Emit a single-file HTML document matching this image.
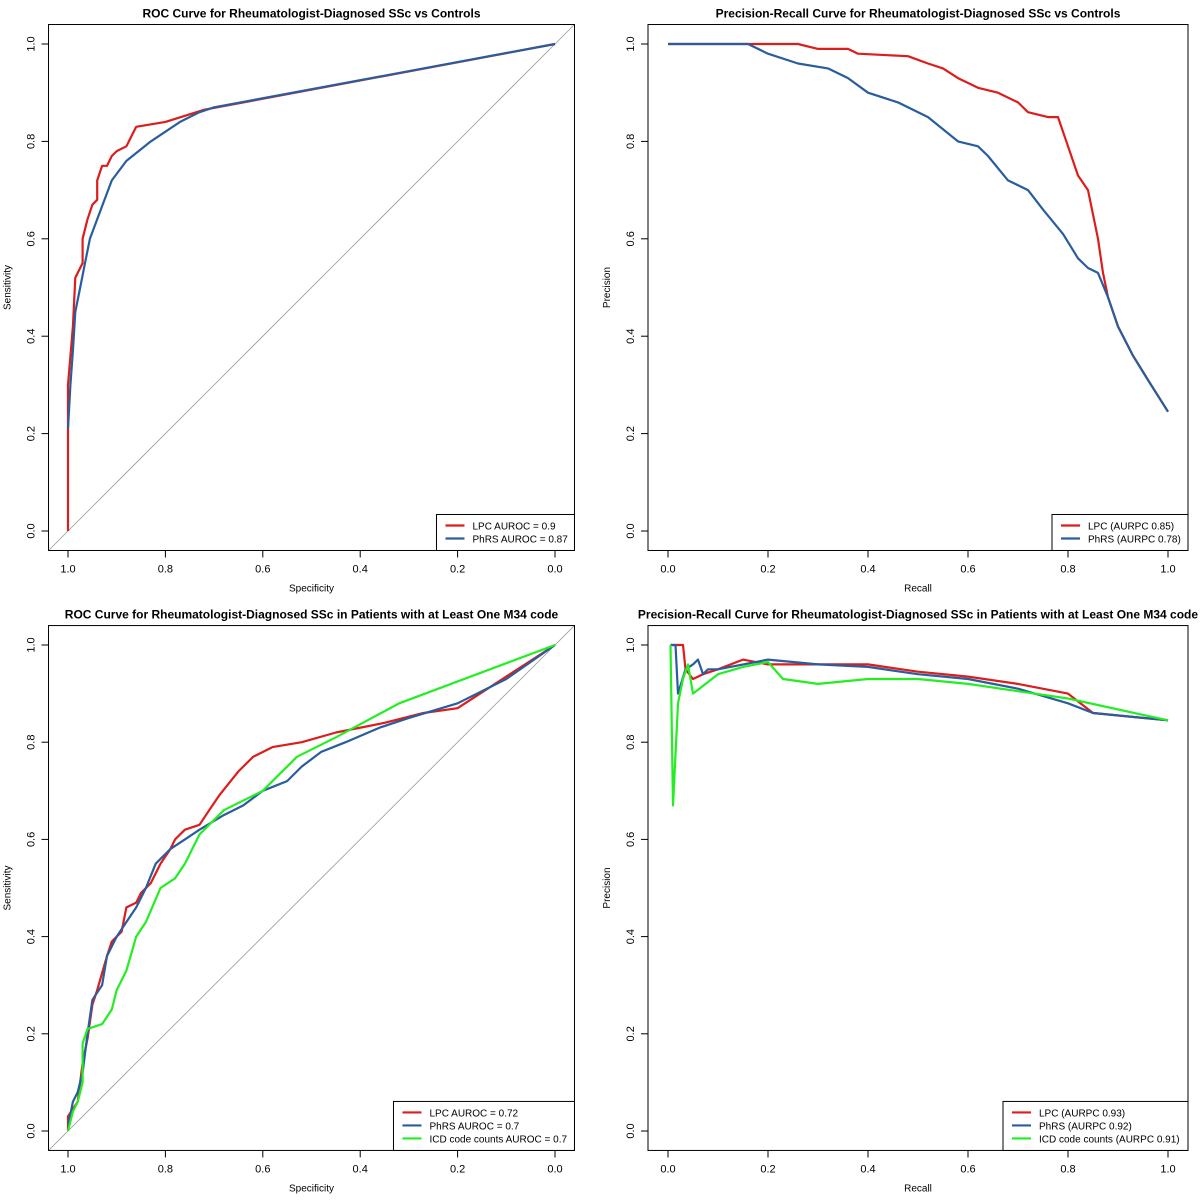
<!DOCTYPE html>
<html><head><meta charset="utf-8"><style>
body{margin:0;background:#fff}
svg{display:block;font-family:"Liberation Sans",Arial,sans-serif}
</style></head><body>
<svg id="c" width="1200" height="1200" viewBox="0 0 1200 1200"></svg>
<script>
// ---- data ----
const rocTicks = [1.0,0.8,0.6,0.4,0.2,0.0];
const prTicks = [0.0,0.2,0.4,0.6,0.8,1.0];
const yTicks = [0.0,0.2,0.4,0.6,0.8,1.0];
const roc1Lpc = [[1,0],[1,0.3],[0.99,0.42],[0.985,0.52],[0.97,0.55],[0.97,0.6],[0.96,0.64],[0.95,0.67],[0.94,0.68],[0.94,0.72],[0.93,0.75],[0.92,0.75],[0.91,0.77],[0.9,0.78],[0.88,0.79],[0.87,0.81],[0.86,0.83],[0.8,0.84],[0.72,0.865],[0,1]];
const roc1Phrs = [[1,0.21],[0.995,0.3],[0.99,0.37],[0.985,0.45],[0.975,0.5],[0.965,0.55],[0.955,0.6],[0.94,0.64],[0.925,0.68],[0.91,0.72],[0.88,0.76],[0.855,0.78],[0.83,0.8],[0.8,0.82],[0.77,0.84],[0.73,0.86],[0.7,0.87],[0,1]];
const pr1Lpc = [[0,1],[0.26,1],[0.3,0.99],[0.36,0.99],[0.38,0.98],[0.48,0.975],[0.52,0.96],[0.55,0.95],[0.58,0.93],[0.62,0.91],[0.66,0.9],[0.7,0.88],[0.72,0.86],[0.76,0.85],[0.78,0.85],[0.79,0.82],[0.8,0.79],[0.82,0.73],[0.84,0.7],[0.86,0.6],[0.87,0.53],[0.88,0.48],[0.9,0.42],[0.93,0.36],[0.96,0.31],[1,0.245]];
const pr1Phrs = [[0,1],[0.16,1],[0.2,0.98],[0.26,0.96],[0.32,0.95],[0.36,0.93],[0.4,0.9],[0.46,0.88],[0.52,0.85],[0.58,0.8],[0.62,0.79],[0.64,0.77],[0.68,0.72],[0.72,0.7],[0.75,0.66],[0.79,0.61],[0.82,0.56],[0.84,0.54],[0.86,0.53],[0.88,0.48],[0.9,0.42],[0.93,0.36],[0.96,0.31],[1,0.245]];
const roc2Lpc = [[1,0],[1,0.03],[0.98,0.06],[0.97,0.14],[0.96,0.19],[0.95,0.26],[0.94,0.29],[0.92,0.36],[0.91,0.39],[0.89,0.41],[0.88,0.46],[0.86,0.47],[0.85,0.49],[0.83,0.51],[0.81,0.55],[0.79,0.58],[0.78,0.6],[0.76,0.62],[0.73,0.63],[0.71,0.66],[0.69,0.69],[0.65,0.74],[0.62,0.77],[0.58,0.79],[0.52,0.8],[0.45,0.82],[0.35,0.84],[0.27,0.86],[0.2,0.87],[0,1]];
const roc2Phrs = [[1,0.01],[0.99,0.06],[0.98,0.08],[0.97,0.12],[0.96,0.2],[0.95,0.27],[0.93,0.3],[0.92,0.36],[0.9,0.4],[0.88,0.43],[0.86,0.46],[0.84,0.5],[0.82,0.55],[0.79,0.58],[0.76,0.6],[0.73,0.62],[0.68,0.65],[0.64,0.67],[0.6,0.7],[0.55,0.72],[0.52,0.75],[0.48,0.78],[0.43,0.8],[0.36,0.83],[0.3,0.85],[0.2,0.88],[0.1,0.93],[0,1]];
const roc2Icd = [[1,0],[0.99,0.04],[0.98,0.06],[0.97,0.1],[0.97,0.18],[0.96,0.21],[0.93,0.22],[0.91,0.25],[0.9,0.29],[0.88,0.33],[0.86,0.4],[0.84,0.43],[0.81,0.5],[0.78,0.52],[0.76,0.55],[0.73,0.61],[0.68,0.66],[0.6,0.7],[0.57,0.73],[0.53,0.77],[0.45,0.81],[0.32,0.88],[0,1]];
const pr2Lpc = [[0.005,1],[0.03,1],[0.035,0.95],[0.05,0.93],[0.07,0.94],[0.1,0.95],[0.15,0.97],[0.2,0.96],[0.3,0.96],[0.4,0.96],[0.5,0.945],[0.6,0.935],[0.7,0.92],[0.8,0.9],[0.85,0.86],[1,0.845]];
const pr2Phrs = [[0.005,1],[0.015,1],[0.02,0.9],[0.035,0.95],[0.05,0.96],[0.06,0.97],[0.07,0.94],[0.08,0.95],[0.1,0.95],[0.2,0.97],[0.3,0.96],[0.4,0.955],[0.5,0.94],[0.6,0.93],[0.7,0.91],[0.8,0.88],[0.85,0.86],[1,0.845]];
const pr2Icd = [[0.005,1],[0.01,0.67],[0.02,0.88],[0.03,0.93],[0.04,0.96],[0.05,0.9],[0.1,0.94],[0.15,0.955],[0.2,0.965],[0.23,0.93],[0.3,0.92],[0.4,0.93],[0.5,0.93],[0.6,0.92],[0.7,0.905],[0.8,0.89],[1,0.845]];

const RED="#dd1c1c", BLUE="#2a5d9c", GREEN="#22ee22";
const svg=document.getElementById('c');
const NS="http://www.w3.org/2000/svg";
function mk(tag,attrs,parent,text){const e=document.createElementNS(NS,tag);for(const k in attrs)e.setAttribute(k,attrs[k]);if(text!==undefined)e.textContent=text;(parent||svg).appendChild(e);return e;}

function panel(o){
  const g=mk('g',{});
  
  
  const sx=v=>o.reverse? o.x0+(1-v)*o.ux : o.x0+v*o.ux;
  const sy=v=>o.y0-v*o.uy;
  const L=o.x0-0.04*o.ux, R=o.x0+1.04*o.ux, T=o.y0-1.04*o.uy, B=o.y0+0.04*o.uy;
  if(o.diag){const d=mk('line',{x1:L,y1:B,x2:R,y2:T,stroke:'#999','stroke-width':0.8},g);}
  o.series.forEach(s=>{
    const p=mk('polyline',{points:s.d.map(q=>sx(q[0]).toFixed(1)+','+sy(q[1]).toFixed(1)).join(' '),fill:'none',stroke:s.c,'stroke-width':2.2,'stroke-linejoin':'round'},g);
    
    
  });
  const box=mk('rect',{x:L,y:T,width:R-L,height:B-T,fill:'none',stroke:'#000','stroke-width':1},g);
  
  o.xt.forEach(v=>{mk('line',{x1:sx(v),x2:sx(v),y1:B,y2:B+7,stroke:'#000'},g);
    const t=mk('text',{x:sx(v),y:B+22,'font-size':11,'text-anchor':'middle'},g,v.toFixed(1));});
  yTicks.forEach(v=>{mk('line',{x1:L,x2:L-7,y1:sy(v),y2:sy(v),stroke:'#000'},g);
    const t=mk('text',{x:L-14,y:sy(v),'font-size':11,'text-anchor':'middle',transform:`rotate(-90 ${L-14} ${sy(v)})`},g,v.toFixed(1));});
  const tt=mk('text',{x:(L+R)/2,y:T-7,'font-size':12,'font-weight':'bold','text-anchor':'middle'},g,o.title);
  const xl=mk('text',{x:(L+R)/2,y:B+41,'font-size':10,'text-anchor':'middle'},g,o.xl);
  const yx=L-38, yy=(T+B)/2;
  const yl=mk('text',{x:yx,y:yy,'font-size':10,'text-anchor':'middle',transform:`rotate(-90 ${yx} ${yy})`},g,o.yl);
  const lh=o.series.length*13+10;
  const lg=mk('g',{},g);
  mk('rect',{x:R-o.lw,y:B-lh,width:o.lw,height:lh,fill:'#fff',stroke:'#000'},lg);
  o.series.forEach((s,i)=>{const yy2=B-lh+11+i*13;
    mk('line',{x1:R-o.lw+9,x2:R-o.lw+28,y1:yy2,y2:yy2,stroke:s.c,'stroke-width':2.2},lg);
    const t=mk('text',{x:R-o.lw+36,y:yy2+4,'font-size':10},lg,s.label);});
}
panel({name:'roc-panel-1',x0:68,ux:487,y0:531,uy:487,reverse:true,diag:true,xt:rocTicks,lw:138,
  title:'ROC Curve for Rheumatologist-Diagnosed SSc vs Controls',xl:'Specificity',yl:'Sensitivity',
  series:[{d:roc1Lpc,c:RED,n:'lpc-roc-line',label:'LPC AUROC = 0.9'},{d:roc1Phrs,c:BLUE,n:'phrs-roc-line',label:'PhRS AUROC = 0.87'}]});
panel({name:'pr-panel-1',x0:668,ux:500,y0:531,uy:487,reverse:false,diag:false,xt:prTicks,lw:136,
  title:'Precision-Recall Curve for Rheumatologist-Diagnosed SSc vs Controls',xl:'Recall',yl:'Precision',
  series:[{d:pr1Lpc,c:RED,n:'lpc-pr-line',label:'LPC (AURPC 0.85)'},{d:pr1Phrs,c:BLUE,n:'phrs-pr-line',label:'PhRS (AURPC 0.78)'}]});
panel({name:'roc-panel-2',x0:68,ux:487,y0:1131,uy:486,reverse:true,diag:true,xt:rocTicks,lw:181,
  title:'ROC Curve for Rheumatologist-Diagnosed SSc in Patients with at Least One M34 code',xl:'Specificity',yl:'Sensitivity',
  series:[{d:roc2Lpc,c:RED,n:'lpc-roc-line',label:'LPC AUROC = 0.72'},{d:roc2Phrs,c:BLUE,n:'phrs-roc-line',label:'PhRS AUROC = 0.7'},{d:roc2Icd,c:GREEN,n:'icd-roc-line',label:'ICD code counts AUROC = 0.7'}]});
panel({name:'pr-panel-2',x0:668,ux:500,y0:1131,uy:486,reverse:false,diag:false,xt:prTicks,lw:185,
  title:'Precision-Recall Curve for Rheumatologist-Diagnosed SSc in Patients with at Least One M34 code',xl:'Recall',yl:'Precision',
  series:[{d:pr2Lpc,c:RED,n:'lpc-pr-line',label:'LPC (AURPC 0.93)'},{d:pr2Phrs,c:BLUE,n:'phrs-pr-line',label:'PhRS (AURPC 0.92)'},{d:pr2Icd,c:GREEN,n:'icd-pr-line',label:'ICD code counts (AURPC 0.91)'}]});
</script>
</body></html>
